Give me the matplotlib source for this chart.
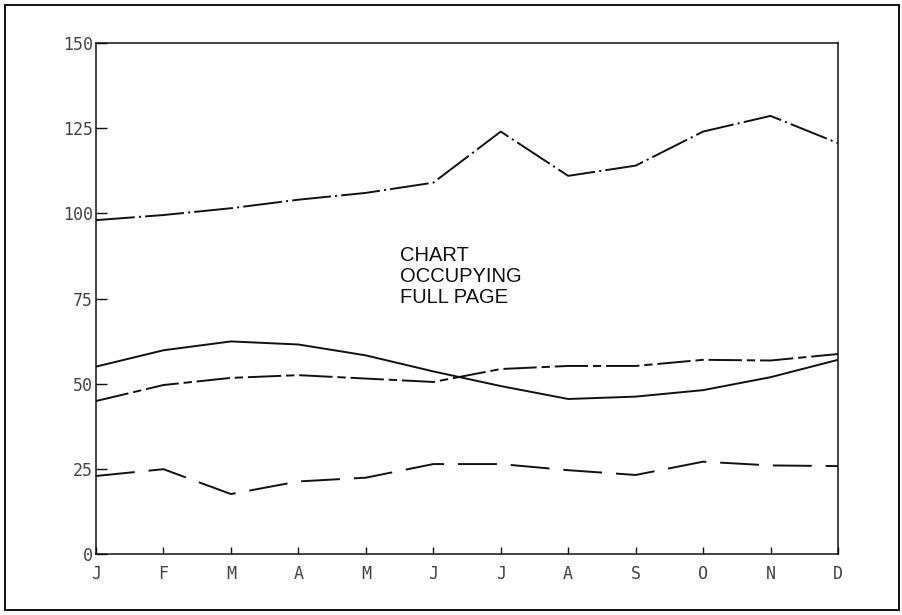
import matplotlib.pyplot as plt
from matplotlib.patches import Rectangle

plt.rcParams['lines.scale_dashes'] = False

# data
months = ['J', 'F', 'M', 'A', 'M', 'J', 'J', 'A', 'S', 'O', 'N', 'D']
series_top = [98, 99.5, 101.5, 104, 106, 109, 124, 111, 114, 124, 128.6, 120.6]
series_solid = [55, 59.8, 62.4, 61.5, 58.3, 53.6, 49.3, 45.5, 46.2, 48.1, 51.9, 57]
series_mid = [44.9, 49.6, 51.7, 52.5, 51.5, 50.5, 54.3, 55.2, 55.2, 57, 56.8, 58.7]
series_low = [22.9, 24.9, 17.6, 21.3, 22.4, 26.4, 26.4, 24.6, 23.2, 27.1, 26, 25.8]
y_ticks = [0, 25, 50, 75, 100, 125, 150]

fig = plt.figure(figsize=(9.03, 6.15), dpi=100)
ax = fig.add_axes([96 / 903, 61 / 615, 742 / 903, 511 / 615])

x = list(range(len(months)))
ink = '#111111'
ax.plot(x, series_top, color=ink, lw=1.4, linestyle=(0, (28, 3, 1.5, 3)))
ax.plot(x, series_solid, color=ink, lw=1.4, linestyle='-')
ax.plot(x, series_mid, color=ink, lw=1.4, linestyle=(0, (24, 3.5, 6, 3.5)))
ax.plot(x, series_low, color=ink, lw=1.4, linestyle=(0, (28, 10)))

ax.set_xlim(0, len(months) - 1)
ax.set_ylim(0, 150)
ax.set_xticks(x)
ax.set_xticklabels(months)
ax.set_yticks(y_ticks)

for s in ax.spines.values():
    s.set_linewidth(1.1)
    s.set_color(ink)

ax.tick_params(axis='y', direction='in', length=8, width=1, pad=2,
               labelsize=12, labelcolor='#444444', color=ink)
ax.tick_params(axis='x', direction='in', length=5, width=1, pad=8,
               labelsize=12, labelcolor='#444444', color=ink)
for lab in ax.get_xticklabels() + ax.get_yticklabels():
    lab.set_family('DejaVu Sans Mono')

ax.text(4.5, 90.5, 'CHART\nOCCUPYING\nFULL PAGE', fontsize=14.5,
        va='top', ha='left', linespacing=1.16, color=ink,
        family='Liberation Sans')

# outer page frame
fig.patches.append(Rectangle((5 / 903, 5 / 615), 894 / 903, 605 / 615,
                             transform=fig.transFigure, fill=False,
                             edgecolor=ink, linewidth=1.4))

plt.savefig('out.png', dpi=100, facecolor='white')
plt.close(fig)
